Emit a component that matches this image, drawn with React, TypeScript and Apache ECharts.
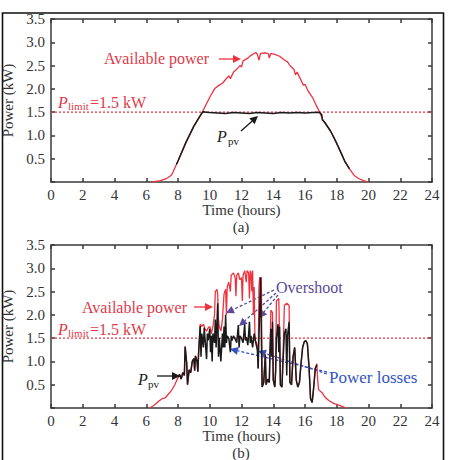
import React, { useEffect, useRef } from 'react';
import * as echarts from 'echarts';

// ---- data (hours, kW) ----
const limitKW = 1.5;
const hourMin = 0;
const hourMax = 24;
const powerMax = 3.5;

const topAvailable: [number, number][] = [
  [6.4, 0], [6.9, 0.03], [7.3, 0.08], [7.6, 0.15], [8.0, 0.45], [8.5, 0.85], [9.0, 1.2], [9.5, 1.48],
  [10.0, 1.82], [10.3, 2.0], [10.6, 2.08], [10.8, 2.12], [11.0, 2.2], [11.2, 2.28], [11.3, 2.22],
  [11.5, 2.36], [11.7, 2.42], [11.9, 2.5], [12.0, 2.47], [12.1, 2.6], [12.4, 2.66], [12.6, 2.72],
  [12.8, 2.76], [12.9, 2.78], [13.0, 2.74], [13.1, 2.62], [13.2, 2.76], [13.5, 2.77], [13.7, 2.75],
  [13.75, 2.66], [13.85, 2.76], [14.1, 2.74], [14.4, 2.7], [14.7, 2.62], [14.9, 2.58], [15.1, 2.48],
  [15.3, 2.42], [15.4, 2.3], [15.5, 2.36], [15.7, 2.22], [15.9, 2.08], [16.0, 2.1], [16.2, 1.95],
  [16.5, 1.8], [16.7, 1.65], [16.9, 1.52], [17.1, 1.35], [17.3, 1.25], [17.6, 1.1], [17.9, 0.9],
  [18.2, 0.68], [18.5, 0.45], [18.8, 0.28], [19.1, 0.14], [19.4, 0.07], [19.7, 0.03], [20.0, 0],
];

const topPv: [number, number][] = [
  [7.9, 0.38], [8.0, 0.45], [8.5, 0.85], [9.0, 1.2], [9.5, 1.48], [9.6, 1.51], [9.8, 1.5], [10.0, 1.49],
  [10.5, 1.48], [11.0, 1.47], [11.5, 1.49], [12.0, 1.48], [12.5, 1.47], [13.0, 1.49], [13.5, 1.48],
  [14.0, 1.47], [14.5, 1.49], [15.0, 1.48], [15.5, 1.49], [16.0, 1.48], [16.5, 1.49], [16.9, 1.5],
  [17.05, 1.45], [17.1, 1.33], [17.2, 1.3], [17.3, 1.25], [17.6, 1.1], [17.9, 0.9], [18.2, 0.68],
  [18.5, 0.45], [18.8, 0.28],
];

const bottomAvailable: [number, number][] = [
  [6.2, 0], [6.5, 0.06], [6.8, 0.15], [7.0, 0.2], [7.2, 0.22], [7.4, 0.3], [7.6, 0.38], [7.8, 0.5],
  [8.0, 0.66], [8.1, 0.72], [8.2, 0.62], [8.3, 0.76], [8.4, 0.7], [8.45, 1.32], [8.55, 0.95], [8.6, 0.5],
  [8.7, 0.82], [8.8, 0.76], [8.9, 1.0], [9.0, 1.06], [9.05, 0.8], [9.1, 1.12], [9.2, 1.0], [9.25, 0.78],
  [9.3, 1.2], [9.4, 1.8], [9.5, 1.75], [9.6, 1.8], [9.7, 1.7], [9.8, 1.65], [9.9, 1.72], [10.0, 1.75],
  [10.1, 1.6], [10.2, 1.75], [10.3, 2.0], [10.35, 2.5], [10.45, 2.55], [10.5, 2.45], [10.55, 1.9],
  [10.6, 1.75], [10.7, 1.65], [10.8, 1.9], [10.9, 2.45], [11.0, 2.55], [11.05, 2.0], [11.1, 2.6],
  [11.2, 2.7], [11.3, 2.5], [11.35, 2.85], [11.5, 2.9], [11.6, 2.8], [11.65, 2.4], [11.7, 2.85],
  [11.8, 2.9], [11.9, 2.75], [12.0, 2.8], [12.05, 2.3], [12.1, 2.85], [12.2, 2.95], [12.3, 2.7],
  [12.35, 2.95], [12.45, 2.9], [12.5, 2.35], [12.55, 2.95], [12.6, 2.9], [12.65, 2.5], [12.7, 2.95],
  [12.75, 2.0], [12.8, 2.6], [12.85, 1.45], [12.95, 1.4], [13.0, 1.3], [13.05, 0.85], [13.1, 2.6],
  [13.15, 2.8], [13.25, 2.8], [13.3, 0.45], [13.4, 0.55], [13.5, 1.15], [13.55, 0.5], [13.65, 0.62],
  [13.75, 0.55], [13.8, 1.3], [13.85, 2.1], [13.95, 2.05], [14.0, 0.6], [14.1, 0.45], [14.15, 0.8],
  [14.2, 2.3], [14.35, 2.35], [14.45, 0.5], [14.55, 0.45], [14.6, 0.9], [14.7, 2.2], [14.85, 2.25],
  [15.0, 2.2], [15.05, 0.55], [15.15, 0.5], [15.25, 1.1], [15.35, 1.3], [15.45, 0.6], [15.55, 0.45],
  [15.65, 0.55], [15.75, 0.95], [15.85, 1.3], [15.95, 1.42], [16.05, 1.45], [16.15, 1.38], [16.25, 0.9],
  [16.35, 0.2], [16.45, 0.12], [16.55, 0.45], [16.65, 0.85], [16.75, 0.95], [16.8, 0.6], [16.85, 0.4],
  [17.0, 0.35], [17.1, 0.32], [17.2, 0.26], [17.3, 0.22], [17.5, 0.16], [17.8, 0.1], [18.0, 0.08],
  [18.3, 0.04], [18.6, 0],
];

const bottomPv: [number, number][] = [
  [8.0, 0.66], [8.1, 0.72], [8.2, 0.62], [8.3, 0.76], [8.4, 0.7], [8.45, 1.32], [8.55, 0.95], [8.6, 0.5],
  [8.7, 0.82], [8.8, 0.76], [8.9, 1.0], [9.0, 1.06], [9.05, 0.8], [9.1, 1.12], [9.2, 1.0], [9.25, 0.78],
  [9.3, 1.2], [9.4, 1.76], [9.45, 1.1], [9.5, 1.6], [9.6, 1.3], [9.65, 1.72], [9.7, 1.5], [9.8, 1.05],
  [9.85, 1.6], [9.9, 1.45], [10.0, 1.7], [10.05, 1.2], [10.1, 1.55], [10.15, 1.0], [10.2, 1.6],
  [10.3, 1.4], [10.35, 1.9], [10.4, 1.3], [10.5, 2.25], [10.55, 1.1], [10.6, 1.5], [10.7, 1.0],
  [10.8, 1.6], [10.85, 1.3], [10.9, 1.75], [10.95, 1.3], [11.0, 2.0], [11.05, 1.4], [11.1, 1.55],
  [11.2, 1.5], [11.3, 1.2], [11.35, 1.55], [11.4, 1.45], [11.5, 1.55], [11.6, 1.48], [11.7, 1.4],
  [11.8, 1.78], [11.85, 1.3], [11.9, 1.55], [12.0, 1.5], [12.1, 1.4], [12.2, 1.8], [12.25, 1.45],
  [12.3, 1.52], [12.4, 1.35], [12.5, 1.85], [12.55, 1.4], [12.6, 1.55], [12.7, 1.3], [12.8, 1.6],
  [12.9, 1.4], [13.0, 1.25], [13.05, 0.85], [13.1, 1.55], [13.2, 2.8], [13.25, 1.6], [13.3, 0.45],
  [13.4, 0.55], [13.5, 1.15], [13.55, 0.5], [13.65, 0.62], [13.75, 0.55], [13.8, 1.25], [13.85, 1.7],
  [13.9, 1.1], [13.95, 1.85], [14.0, 0.6], [14.1, 0.45], [14.15, 0.8], [14.2, 1.5], [14.3, 1.8],
  [14.35, 1.2], [14.4, 1.75], [14.45, 0.5], [14.55, 0.45], [14.6, 0.9], [14.7, 1.6], [14.8, 1.7],
  [14.85, 0.7], [14.9, 1.55], [15.0, 1.85], [15.05, 0.55], [15.15, 0.5], [15.25, 1.1], [15.35, 1.3],
  [15.45, 0.6], [15.55, 0.45], [15.65, 0.55], [15.75, 0.95], [15.85, 1.3], [15.95, 1.42], [16.05, 1.45],
  [16.15, 1.38], [16.25, 0.9], [16.35, 0.2], [16.45, 0.12], [16.55, 0.45], [16.65, 0.85], [16.75, 0.93],
];

// ---- styling ----
const SERIF = '"Liberation Serif", "Times New Roman", serif';
const RED = '#ee3340';
const RED_TEXT = '#e03a48';
const BLACK = '#1a1a1a';
const AXIS = '#3a3a3a';
const PURPLE = '#5a4a9c';
const BLUE = '#3352c8';

function txt(text: string, x: number, y: number, color: string, size: number, italic = false, align = 'left') {
  return {
    type: 'text',
    x,
    y,
    silent: true,
    style: {
      text,
      fill: color,
      font: `${italic ? 'italic ' : ''}${size}px ${SERIF}`,
      align,
      verticalAlign: 'middle',
    },
  };
}

function arrow(x1: number, y1: number, x2: number, y2: number, color: string, dashed = false, size = 4) {
  const dx = x2 - x1;
  const dy = y2 - y1;
  const len = Math.hypot(dx, dy);
  const ux = dx / len;
  const uy = dy / len;
  const bx = x2 - ux * size * 2;
  const by = y2 - uy * size * 2;
  const px = -uy;
  const py = ux;
  return [
    {
      type: 'line',
      silent: true,
      shape: { x1, y1, x2: bx, y2: by },
      style: { stroke: color, lineWidth: 1.3, lineDash: dashed ? [3, 2] : null },
    },
    {
      type: 'polygon',
      silent: true,
      shape: {
        points: [
          [x2, y2],
          [bx + px * size, by + py * size],
          [bx - px * size, by - py * size],
        ],
      },
      style: { fill: color },
    },
  ];
}

function limitLabel(y: number) {
  return [
    txt('P', 58, y, RED_TEXT, 16, true),
    txt('limit', 68, y + 4, RED_TEXT, 11),
    txt('=1.5 kW', 90, y, RED_TEXT, 16),
  ];
}

export default function App() {
  const ref = useRef<HTMLDivElement>(null);

  useEffect(() => {
    const chart = echarts.init(ref.current!, null, { renderer: 'svg' });

    const grids = [
      { left: 51, top: 19, width: 381, height: 163, containLabel: false, outerBoundsMode: 'none' },
      { left: 51, top: 245, width: 381, height: 163, containLabel: false, outerBoundsMode: 'none' },
    ];

    const lineStyle = { color: AXIS, width: 1.5 };
    const xAxes: any[] = [];
    const yAxes: any[] = [];
    grids.forEach((_, g) => {
      xAxes.push({
        gridIndex: g,
        type: 'value',
        min: hourMin,
        max: hourMax,
        interval: 2,
        position: 'bottom',
        axisLine: { show: true, onZero: false, lineStyle },
        axisTick: { show: true, inside: true, length: 4, lineStyle },
        axisLabel: { fontFamily: SERIF, fontSize: 15, color: '#333', margin: 5 },
        splitLine: { show: false },
        name: 'Time (hours)',
        nameLocation: 'middle',
        nameGap: 20,
        nameTextStyle: { fontFamily: SERIF, fontSize: 15, color: '#333' },
      });
      xAxes.push({
        gridIndex: g,
        type: 'value',
        min: hourMin,
        max: hourMax,
        interval: 2,
        position: 'top',
        axisLine: { show: true, onZero: false, lineStyle },
        axisTick: { show: true, inside: true, length: 4, lineStyle },
        axisLabel: { show: false },
        splitLine: { show: false },
      });
      yAxes.push({
        gridIndex: g,
        type: 'value',
        min: 0,
        max: powerMax,
        interval: 0.5,
        position: 'left',
        axisLine: { show: true, onZero: false, lineStyle },
        axisTick: { show: true, inside: true, length: 4, lineStyle },
        axisLabel: {
          fontFamily: SERIF,
          fontSize: 15,
          color: '#333',
          margin: 6,
          formatter: (v: number) => (v === 0 ? '' : v.toFixed(1)),
        },
        splitLine: { show: false },
        name: 'Power (kW)',
        nameLocation: 'middle',
        nameGap: 32,
        nameTextStyle: { fontFamily: SERIF, fontSize: 15, color: '#333' },
      });
      yAxes.push({
        gridIndex: g,
        type: 'value',
        min: 0,
        max: powerMax,
        interval: 0.5,
        position: 'right',
        axisLine: { show: true, onZero: false, lineStyle },
        axisTick: { show: true, inside: true, length: 4, lineStyle },
        axisLabel: { show: false },
        splitLine: { show: false },
      });
    });

    const mk = (name: string, data: any[], axis: number, color: string, width: number, dotted = false) => ({
      name,
      type: 'line',
      xAxisIndex: axis,
      yAxisIndex: axis,
      data,
      symbol: 'none',
      silent: true,
      lineStyle: { color, width, type: dotted ? [2, 2] : 'solid' },
      z: dotted ? 1 : name.includes('pv') ? 3 : 2,
    });

    const limitLine = [
      [hourMin, limitKW],
      [hourMax, limitKW],
    ];

    const option: any = {
      animation: false,
      backgroundColor: '#ffffff',
      grid: grids,
      xAxis: xAxes,
      yAxis: yAxes,
      series: [
        mk('limit a', limitLine, 0, RED, 1.2, true),
        mk('available a', topAvailable, 0, RED, 1.3),
        mk('pv a', topPv, 0, BLACK, 1.5),
        mk('limit b', limitLine, 2, RED, 1.2, true),
        mk('available b', bottomAvailable, 2, RED, 1.3),
        mk('pv b', bottomPv, 2, BLACK, 1.5),
      ],
      graphic: [
        {
          type: 'rect',
          silent: true,
          shape: { x: 2.5, y: 13, width: 441, height: 470 },
          style: { fill: 'none', stroke: '#111', lineWidth: 1.6 },
        },
        // panel (a)
        txt('Available power', 104, 58, RED_TEXT, 16),
        ...arrow(219, 59, 241, 59, RED, false),
        ...limitLabel(102),
        txt('P', 217, 136, BLACK, 16, true),
        txt('pv', 228, 141, BLACK, 11),
        ...arrow(241, 131, 258, 116, BLACK, false),
        txt('(a)', 241, 227, '#333', 15, false, 'center'),
        // panel (b)
        txt('Available power', 82, 307, RED_TEXT, 16),
        ...arrow(194, 307, 213, 307, RED, false),
        ...limitLabel(329),
        txt('P', 138, 379, BLACK, 16, true),
        txt('pv', 148, 384, BLACK, 11),
        ...arrow(157, 376, 180, 376, BLACK, false),
        txt('Overshoot', 276, 287, PURPLE, 16),
        ...arrow(274, 290, 226, 313, PURPLE, true),
        ...arrow(276, 293, 239, 326, PURPLE, true),
        ...arrow(278, 295, 259, 318, PURPLE, true),
        txt('Power losses', 329, 377, BLUE, 17),
        ...arrow(327, 372, 230, 349, BLUE, true),
        ...arrow(327, 374, 258, 351, BLUE, true),
        txt('(b)', 241, 453, '#333', 15, false, 'center'),
      ],
    };

    chart.setOption(option);
    return () => chart.dispose();
  }, []);

  return (
    <div
      ref={ref}
      style={{ width: 452, height: 460, position: 'absolute', left: 0, top: 0, background: '#fff' }}
    />
  );
}
